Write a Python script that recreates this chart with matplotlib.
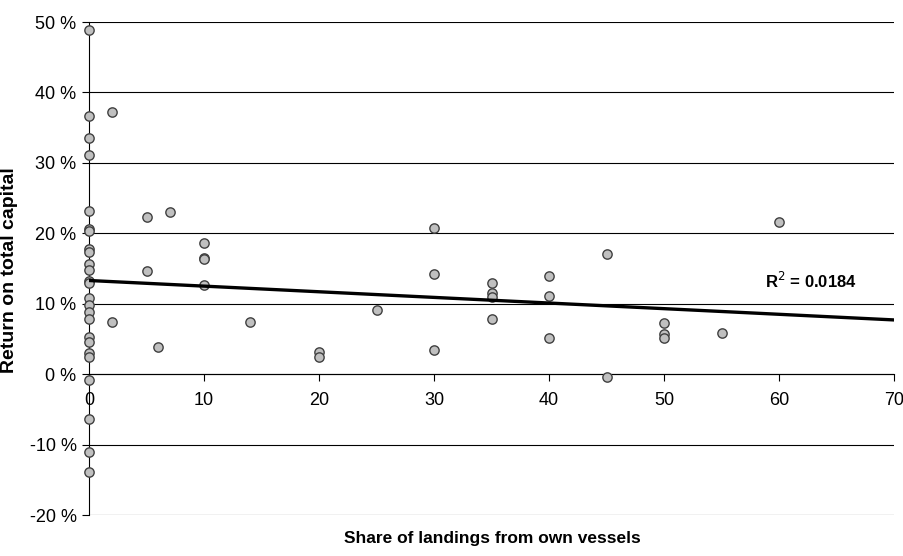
import matplotlib
matplotlib.use('Agg')
import matplotlib.pyplot as plt
import numpy as np
from matplotlib.ticker import FuncFormatter

plt.rcParams['font.family'] = ['Liberation Sans', 'DejaVu Sans']

# share of landings from own vessels (%) and return on total capital (%)
share_x = [0] * 25 + [2, 2, 5, 5, 6, 7, 10, 10, 10, 10, 14, 20, 20, 25,
                      30, 30, 30, 35, 35, 35, 35, 40, 40, 40, 45, 45,
                      50, 50, 50, 55, 60]
return_y = [48.9, 36.6, 33.6, 31.1, 23.1, 20.6, 20.3, 17.8, 17.3, 15.6,
            14.8, 13.2, 12.9, 10.8, 9.8, 8.8, 7.8, 5.3, 4.6, 3.0,
            2.4, -0.8, -6.4, -11.1, -13.9,
            37.2, 7.4, 22.3, 14.7, 3.8, 23.0, 18.6, 16.5, 16.3, 12.6,
            7.4, 3.1, 2.4, 9.1,
            20.7, 14.2, 3.5, 13.0, 11.5, 11.0, 7.8, 13.9, 11.1, 5.1,
            17.1, -0.4, 7.2, 5.7, 5.1, 5.8, 21.6]
# linear trend as shown in the chart
trend_intercept = 13.3
trend_slope = -0.08
r2_text = 'R$^2$ = 0.0184'

x = np.array(share_x, dtype=float)
y = np.array(return_y)

fig = plt.figure(figsize=(9.04, 5.56), dpi=100)
ax = fig.add_axes([0.0985, 0.0737, 0.8905, 0.8867])

ax.scatter(x, y, s=45, facecolor='#c0c0c0', edgecolor='#404040',
           linewidth=1.0, zorder=3, clip_on=False)
xs = np.array([0, 70])
ax.plot(xs, trend_intercept + trend_slope * xs, color='black', lw=2.4, zorder=4)

ax.set_xlim(0, 70)
ax.set_ylim(-20, 50)
ax.set_xticks(range(0, 71, 10))
ax.set_yticks(range(-20, 51, 10))
ax.yaxis.set_major_formatter(FuncFormatter(lambda v, p: f'{v:.0f} %'))
ax.grid(axis='y', color='black', lw=0.8)
ax.set_axisbelow(True)

for s in ['top', 'right']:
    ax.spines[s].set_visible(False)
ax.spines['bottom'].set_position(('data', 0))
ax.spines['left'].set_color('black')
ax.tick_params(axis='x', direction='out', length=5, labelsize=13, pad=8)
ax.tick_params(axis='y', direction='out', length=5, labelsize=13, pad=4)

ax.set_ylabel('Return on total capital', fontsize=14, fontweight='bold')
ax.yaxis.set_label_coords(-0.088, 0.497)
fig.text(0.545, 0.032, 'Share of landings from own vessels',
         fontsize=12.5, fontweight='bold', ha='center', va='center')
ax.text(58.8, 13.3, r2_text, fontsize=12, fontweight='bold', va='center')

fig.savefig('out.png', dpi=100)
